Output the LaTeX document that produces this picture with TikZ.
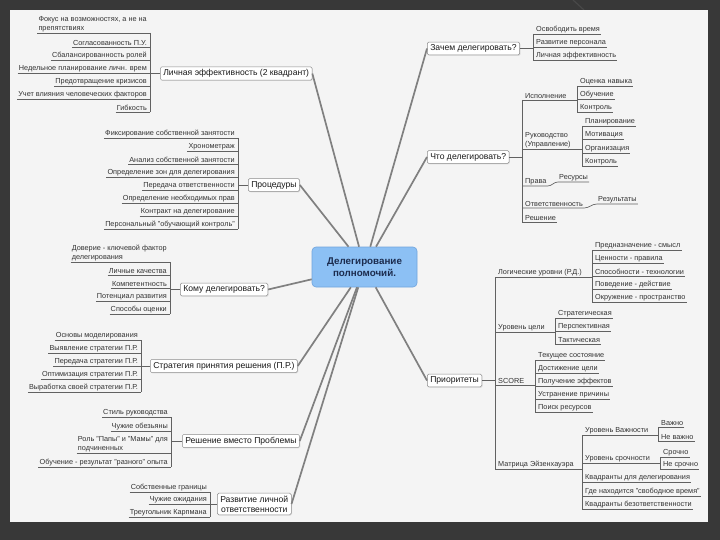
\documentclass[tikz,border=0pt]{standalone}
\usepackage{fontspec}
\setmainfont{Liberation Sans}
\usetikzlibrary{positioning,calc,shadows}
\definecolor{framegray}{RGB}{56,56,56}
\definecolor{framelite}{RGB}{72,72,72}
\definecolor{pagegray}{RGB}{244,244,244}
\definecolor{hubfill}{RGB}{140,192,244}
\definecolor{hubline}{RGB}{112,164,220}
\definecolor{hubtext}{RGB}{28,44,78}
\tikzset{
  leafW/.style={anchor=south east, inner xsep=1pt, inner ysep=1.2pt, font=\fontsize{7.3}{8.3}\selectfont, text=black!80},
  leafE/.style={leafW, anchor=south west},
  branch/.style={draw=black!45, line width=0.5pt, fill=white, rounded corners=1.5pt, inner xsep=3pt, inner ysep=2.6pt,
    font=\fontsize{8.6}{10}\selectfont, text=black!90, drop shadow={shadow xshift=0.8pt, shadow yshift=-0.8pt, opacity=0.18}},
  hub/.style={draw=hubline, line width=0.6pt, fill=hubfill, rounded corners=4pt, minimum width=105pt, minimum height=40pt,
    align=center, font=\fontsize{9.8}{11.8}\selectfont\bfseries, text=hubtext},
  spoke/.style={draw=black!50, line width=1.7pt},
  twig/.style={draw=black!62, line width=0.65pt},
}
\begin{document}
\begin{tikzpicture}[x=1pt,y=-1pt]
\useasboundingbox (0,0) rectangle (720,540);
\fill[framegray] (0,0) rectangle (720,540);
\draw[framelite, line width=1.2pt] (573,0) -- (584,10);
\fill[pagegray] (10,10) rectangle (708,522);

\node[hub] (dn) at (364.5,267) {Делегирование\\полномочий.};
\node[branch, anchor=west] (pe) at (160,73.5) {Личная эффективность (2 квадрант)};
\node[branch, anchor=west] (zd) at (427,48.5) {Зачем делегировать?};
\node[branch, anchor=west] (cd) at (427,157) {Что делегировать?};
\node[branch, anchor=west] (pr) at (248,185) {Процедуры};
\node[branch, anchor=west] (kd) at (180,289.5) {Кому делегировать?};
\node[branch, anchor=west] (sp) at (150,366) {Стратегия принятия решения (П.Р.)};
\node[branch, anchor=west] (rv) at (182,441) {Решение вместо Проблемы};
\node[branch, anchor=west, align=center] (rl) at (217,504) {Развитие личной\\ответственности};
\node[branch, anchor=west] (pt) at (427,380.5) {Приоритеты};
\foreach \n in {pe,pr,kd,sp,rv,rl} \draw[spoke] (\n.east) -- (dn);
\foreach \n in {zd,cd,pt} \draw[spoke] (\n.west) -- (dn);

\coordinate (peb) at (150,0);
\node[leafW, align=left] (pe0) at (148,33) {Фокус на возможностях, а не на\\препятствиях};
\foreach \y/\t [count=\i] in {47/Согласованность П.У.,60/Сбалансированность ролей,73/Недельное планирование личн. врем,
  86/Предотвращение кризисов,99/Учет влияния человеческих факторов,112/Гибкость}
  \node[leafW] (pe\i) at (148,\y) {\t};
\foreach \i in {0,...,6} \draw[twig] (pe\i.south west) -- (pe\i.south west -| peb);
\draw[twig] (pe0.south -| peb) -- (pe6.south -| peb);
\draw[twig] (pe.west) -- (pe.west -| peb);

\coordinate (zdb) at (533,0);
\foreach \y/\t [count=\i] in {34/Освободить время,47/Развитие персонала,60/Личная эффективность} {
  \node[leafE] (zd\i) at (535,\y) {\t};
  \draw[twig] (zd\i.south west -| zdb) -- (zd\i.south east);
}
\draw[twig] (zd1.south -| zdb) -- (zd3.south -| zdb);
\draw[twig] (zd.east) -- (zd.east -| zdb);

\coordinate (cdb) at (522,0);
\coordinate (cd1b) at (577,0);
\coordinate (cd2b) at (582,0);
\node[leafE] (cd1) at (524,100) {Исполнение};
\node[leafE, align=left] (cd2) at (524,149) {Руководство\\(Управление)};
\node[leafE] (cd3) at (524,186) {Права};
\node[leafE] (cd4) at (524,208) {Ответственность};
\node[leafE] (cd5) at (524,222) {Решение};
\node[leafE] (cdc1) at (558,182) {Ресурсы};
\node[leafE] (cdd1) at (597,204) {Результаты};
\draw[twig] (cd1.south -| cdb) -- (cd5.south -| cdb);
\draw[twig] (cd.east) -- (cd.east -| cdb);
\draw[twig] (cd1.south west -| cdb) -- (cd1.south west -| cd1b);
\draw[twig] (cd2.south west -| cdb) -- (cd2.south west -| cd2b);
\draw[twig] (cd3.south west -| cdb) -- (cd3.south east) to[out=0,in=180] (cdc1.south west) -- (cdc1.south east);
\draw[twig] (cd4.south west -| cdb) -- (cd4.south east) to[out=0,in=180] (cdd1.south west) -- (cdd1.south east);
\draw[twig] (cd5.south west -| cdb) -- (cd5.south east);
\foreach \y/\t [count=\i] in {86/Оценка навыка,99/Обучение,112/Контроль} {
  \node[leafE] (cda\i) at (579,\y) {\t};
  \draw[twig] (cda\i.south west -| cd1b) -- (cda\i.south east);
}
\draw[twig] (cda1.south -| cd1b) -- (cda3.south -| cd1b);
\foreach \y/\t [count=\i] in {126/Планирование,139.5/Мотивация,153/Организация,166.5/Контроль} {
  \node[leafE] (cdb\i) at (584,\y) {\t};
  \draw[twig] (cdb\i.south west -| cd2b) -- (cdb\i.south east);
}
\draw[twig] (cdb1.south -| cd2b) -- (cdb4.south -| cd2b);

\coordinate (prb) at (238,0);
\foreach \y/\t [count=\i] in {138/Фиксирование собственной занятости,151/Хронометраж,164/Анализ собственной занятости,
  177/Определение зон для делегирования,190/Передача ответственности,203/Определение необходимых прав,
  216/Контракт на делегирование,229/Персональный "обучающий контроль"} {
  \node[leafW] (pr\i) at (236,\y) {\t};
  \draw[twig] (pr\i.south west) -- (pr\i.south west -| prb);
}
\draw[twig] (pr1.south -| prb) -- (pr8.south -| prb);
\draw[twig] (pr.west) -- (pr.west -| prb);

\coordinate (kdb) at (170,0);
\node[leafW, align=left] (kd0) at (168,262) {Доверие - ключевой фактор\\делегирования};
\foreach \y/\t [count=\i] in {275/Личные качества,288/Компетентность,301/Потенциал развития,314/Способы оценки}
  \node[leafW] (kd\i) at (168,\y) {\t};
\foreach \i in {0,...,4} \draw[twig] (kd\i.south west) -- (kd\i.south west -| kdb);
\draw[twig] (kd0.south -| kdb) -- (kd4.south -| kdb);
\draw[twig] (kd.west) -- (kd.west -| kdb);

\coordinate (spb) at (141,0);
\foreach \y/\t [count=\i] in {340/Основы моделирования,353/Выявление стратегии П.Р.,366/Передача стратегии П.Р.,
  379/Оптимизация стратегии П.Р.,392/Выработка своей стратегии П.Р.} {
  \node[leafW] (sp\i) at (139,\y) {\t};
  \draw[twig] (sp\i.south west) -- (sp\i.south west -| spb);
}
\draw[twig] (sp1.south -| spb) -- (sp5.south -| spb);
\draw[twig] (sp.west) -- (sp.west -| spb);

\coordinate (rvb) at (171,0);
\node[leafW] (rv1) at (169,417) {Стиль руководства};
\node[leafW] (rv2) at (169,431) {Чужие обезьяны};
\node[leafW, align=left] (rv3) at (169,453) {Роль "Папы" и "Мамы" для\\подчиненных};
\node[leafW] (rv4) at (169,467) {Обучение - результат "разного" опыта};
\foreach \i in {1,...,4} \draw[twig] (rv\i.south west) -- (rv\i.south west -| rvb);
\draw[twig] (rv1.south -| rvb) -- (rv4.south -| rvb);
\draw[twig] (rv.west) -- (rv.west -| rvb);

\coordinate (rlb) at (210,0);
\foreach \y/\t [count=\i] in {492/Собственные границы,504.5/Чужие ожидания,517/Треугольник Карпмана} {
  \node[leafW] (rl\i) at (208,\y) {\t};
  \draw[twig] (rl\i.south west) -- (rl\i.south west -| rlb);
}
\draw[twig] (rl1.south -| rlb) -- (rl3.south -| rlb);
\draw[twig] (rl.west) -- (rl.west -| rlb);

\coordinate (ptb) at (495,0);
\coordinate (pt1b) at (592,0);
\coordinate (pt2b) at (555,0);
\coordinate (pt3b) at (535,0);
\coordinate (pt4b) at (582,0);
\node[leafE] (pt1) at (497,277) {Логические уровни (Р.Д.)};
\node[leafE] (pt2) at (497,332) {Уровень цели};
\node[leafE] (pt3) at (497,385) {SCORE};
\node[leafE] (pt4) at (497,469) {Матрица Эйзенхауэра};
\draw[twig] (pt1.south -| ptb) -- (pt4.south -| ptb);
\draw[twig] (pt.east) -- (pt.east -| ptb);
\foreach \i in {1,...,4} \draw[twig] (pt\i.south west -| ptb) -- (pt\i.south west -| pt\i b);
\foreach \y/\t [count=\i] in {250/Предназначение - смысл,263/Ценности - правила,276/Способности - технологии,
  289/Поведение - действие,302/Окружение - пространство} {
  \node[leafE] (pta\i) at (594,\y) {\t};
  \draw[twig] (pta\i.south west -| pt1b) -- (pta\i.south east);
}
\draw[twig] (pta1.south -| pt1b) -- (pta5.south -| pt1b);
\foreach \y/\t [count=\i] in {318/Стратегическая,331/Перспективная,344/Тактическая} {
  \node[leafE] (ptb\i) at (557,\y) {\t};
  \draw[twig] (ptb\i.south west -| pt2b) -- (ptb\i.south east);
}
\draw[twig] (ptb1.south -| pt2b) -- (ptb3.south -| pt2b);
\foreach \y/\t [count=\i] in {360/Текущее состояние,373/Достижение цели,386/Получение эффектов,
  399/Устранение причины,412/Поиск ресурсов} {
  \node[leafE] (ptc\i) at (537,\y) {\t};
  \draw[twig] (ptc\i.south west -| pt3b) -- (ptc\i.south east);
}
\draw[twig] (ptc1.south -| pt3b) -- (ptc5.south -| pt3b);
\coordinate (pt41b) at (658,0);
\coordinate (pt42b) at (660,0);
\node[leafE] (pt41) at (584,435) {Уровень Важности};
\node[leafE] (pt42) at (584,463) {Уровень срочности};
\node[leafE] (pt43) at (584,482) {Квадранты для делегирования};
\node[leafE] (pt44) at (584,496) {Где находится "свободное время"};
\node[leafE] (pt45) at (584,509) {Квадранты безответственности};
\draw[twig] (pt41.south -| pt4b) -- (pt45.south -| pt4b);
\draw[twig] (pt41.south west -| pt4b) -- (pt41.south west -| pt41b);
\draw[twig] (pt42.south west -| pt4b) -- (pt42.south west -| pt42b);
\foreach \i in {3,4,5} \draw[twig] (pt4\i.south west -| pt4b) -- (pt4\i.south east);
\node[leafE] (ptd1) at (660,427) {Важно};
\node[leafE] (ptd2) at (660,441) {Не важно};
\node[leafE] (pte1) at (662,457) {Срочно};
\node[leafE] (pte2) at (662,469) {Не срочно};
\draw[twig] (ptd1.south east) -- (ptd1.south west -| pt41b) -- (ptd2.south west -| pt41b) -- (ptd2.south east);
\draw[twig] (pte1.south east) -- (pte1.south west -| pt42b) -- (pte2.south west -| pt42b) -- (pte2.south east);
\end{tikzpicture}
\end{document}
